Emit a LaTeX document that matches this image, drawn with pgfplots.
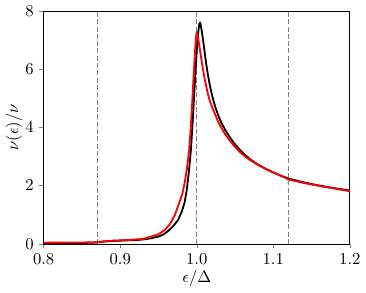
\documentclass[border=0pt]{standalone}
\usepackage{pgfplots}
\pgfplotsset{compat=1.18}
\begin{document}
\begin{tikzpicture}
\begin{axis}[
  scale only axis,
  width=184pt, height=140pt,
  xmin=0.8, xmax=1.2, ymin=0, ymax=8,
  xtick={0.8,0.9,1.0,1.1,1.2},
  xticklabels={0.8,0.9,1.0,1.1,1.2},
  ytick={0,2,4,6,8},
  tick align=outside,
  xtick pos=bottom, ytick pos=left,
  major tick length=2.5pt,
  xlabel={$\epsilon/\Delta$},
  ylabel={$\nu(\epsilon)/\nu$},
  xlabel style={yshift=4pt},
  ylabel style={yshift=-5pt},
  clip=true,
]
\addplot[gray, dash pattern=on 3pt off 1.4pt, line width=0.85pt] coordinates {(0.87,0) (0.87,8)};
\addplot[gray, dash pattern=on 3pt off 1.4pt, line width=0.85pt] coordinates {(1.0,0) (1.0,8)};
\addplot[gray, dash pattern=on 3pt off 1.4pt, line width=0.85pt] coordinates {(1.12,0) (1.12,8)};
\addplot[black, line width=1.1pt, line join=round] coordinates {
(0.80,0.02) (0.85,0.03) (0.865,0.04) (0.87,0.05) (0.875,0.07) (0.88,0.08) (0.89,0.10) (0.90,0.11)
(0.91,0.12) (0.92,0.13) (0.93,0.15) (0.94,0.19) (0.95,0.25) (0.957,0.33) (0.963,0.45) (0.969,0.60) (0.9756,0.82) (0.980,1.08) (0.984,1.40)
(0.987,1.85) (0.990,2.55) (0.9923,3.19) (0.994,3.90) (0.996,4.80) (0.998,5.75) (1.000,6.6) (1.002,7.28) (1.0035,7.56) (1.0045,7.60)
(1.006,7.40) (1.008,7.05) (1.010,6.65) (1.012,6.25) (1.014,5.90) (1.016,5.60) (1.018,5.33) (1.021,5.00) (1.024,4.72)
(1.028,4.42) (1.032,4.17) (1.037,3.92) (1.042,3.71) (1.048,3.48) (1.055,3.27) (1.062,3.08) (1.070,2.90)
(1.080,2.72) (1.090,2.58) (1.100,2.45) (1.110,2.34) (1.120,2.24) (1.140,2.11) (1.160,2.00) (1.180,1.91) (1.200,1.83)
};
\addplot[red, line width=1.1pt, line join=round] coordinates {
(0.80,0.04) (0.86,0.05) (0.87,0.06) (0.88,0.09) (0.89,0.11) (0.90,0.12) (0.915,0.14) (0.93,0.17)
(0.942,0.26) (0.95,0.33) (0.9587,0.48) (0.965,0.68) (0.9713,0.98) (0.977,1.40) (0.981,1.70)
(0.984,2.06) (0.987,2.55) (0.990,3.19) (0.992,3.90) (0.994,4.80) (0.996,5.80) (0.998,6.70) (0.999,7.08) (1.000,7.27)
(1.002,7.05) (1.004,6.70) (1.006,6.35) (1.008,6.02) (1.010,5.72) (1.013,5.33) (1.016,5.00) (1.020,4.70)
(1.024,4.45) (1.028,4.20) (1.032,3.99) (1.037,3.77) (1.043,3.55) (1.050,3.33) (1.057,3.14) (1.065,2.96)
(1.075,2.79) (1.085,2.64) (1.095,2.51) (1.105,2.40) (1.120,2.21) (1.140,2.09) (1.160,1.99) (1.180,1.90) (1.200,1.81)
};
\end{axis}
\end{tikzpicture}
\end{document}
